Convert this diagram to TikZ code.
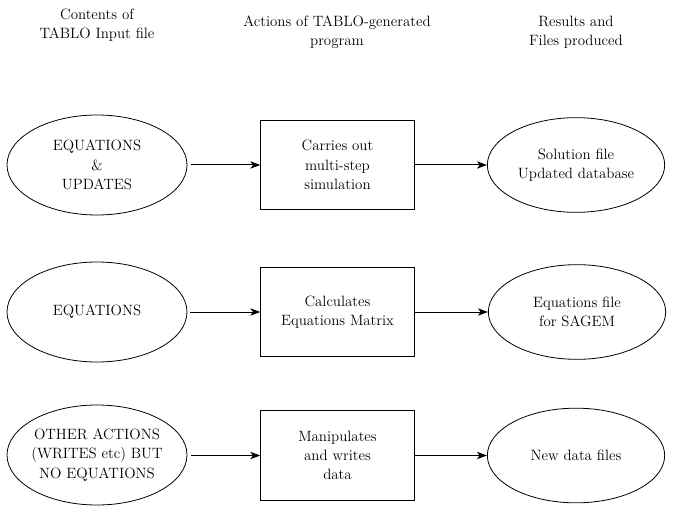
\documentclass[tikz,border=0pt]{standalone}
\usetikzlibrary{arrows.meta, shapes.geometric}

\begin{document}
\begin{tikzpicture}[
  x=0.75pt, y=-0.75pt,
  >={Stealth[length=7.5pt, width=5.5pt, inset=2pt]},
  every node/.style={font=\rmfamily\fontsize{11.2}{14.5}\selectfont, align=center},
  inell/.style={ellipse, draw, line width=0.6pt, minimum width=135pt, minimum height=75pt, inner sep=0pt, inner xsep=-5pt},
  outell/.style={ellipse, draw, line width=0.6pt, minimum width=133pt, minimum height=71pt, inner sep=0pt},
  actbox/.style={rectangle, draw, line width=0.75pt, minimum width=115pt, minimum height=67pt, inner sep=0pt},
  flow/.style={->, line width=0.75pt},
]

% Page
\useasboundingbox (0,0) rectangle (673,516);

% Column headings
\node (hdin) at (97,25) {Contents of\\TABLO Input file};
\node (hdact) at (337,32) {Actions of TABLO-generated\\program};
\node (hdout) at (576,32) {Results and\\Files produced};

% Row 1
\node[inell] (in1) at (97,165) {EQUATIONS\\\&\\UPDATES};
\node[actbox] (act1) at (337.5,165) {Carries out\\multi-step\\simulation};
\node[outell] (out1) at (576,165) {Solution file\\Updated database};

% Row 2
\node[inell] (in2) at (97,312) {EQUATIONS};
\node[actbox] (act2) at (337.5,312) {Calculates\\Equations Matrix};
\node[outell] (out2) at (577,312) {Equations file\\for SAGEM};

% Row 3
\node[inell] (in3) at (97,455) {OTHER ACTIONS\\(WRITES etc) BUT\\NO EQUATIONS};
\node[actbox] (act3) at (337.5,455.5) {Manipulates\\and writes\\data};
\node[outell] (out3) at (576,455.5) {New data files};

% Arrows
\draw[flow] ([xshift=3pt]in1.east) -- (act1.west);
\draw[flow] (act1.east) -- (out1.west);
\draw[flow] ([xshift=2pt]in2.east) -- (act2.west);
\draw[flow] (act2.east) -- (out2.west);
\draw[flow] ([xshift=3pt]in3.east |- act3.west) -- (act3.west);
\draw[flow] (act3.east) -- (out3.west);

\end{tikzpicture}
\end{document}
